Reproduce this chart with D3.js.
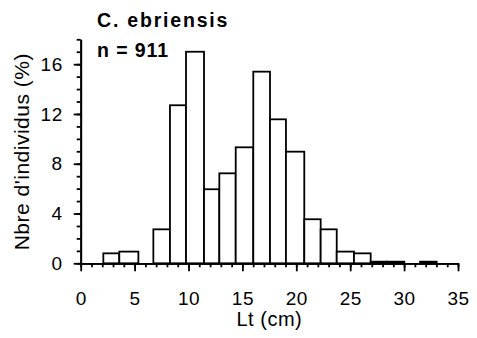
<!DOCTYPE html>
<html>
<head>
<meta charset="utf-8">
<script src="https://cdn.jsdelivr.net/npm/d3@7"></script>
<style>
  body { margin: 0; background: #fff; }
  svg text { font-family: "Liberation Sans", Arial, sans-serif; fill: #000; }
</style>
</head>
<body>
<svg id="chart" width="477" height="338"></svg>
<script>
// length classes (cm), lower/upper edges
const binLo = [2.1, 3.58, 5.35, 6.74, 8.28, 9.77, 11.44, 12.86, 14.38, 16.01, 17.56, 19.04, 20.74, 22.26, 23.75, 25.35, 26.9, 28.38, 30.02, 31.48];
const binHi = [3.58, 5.35, 6.74, 8.28, 9.77, 11.44, 12.86, 14.38, 16.01, 17.56, 19.04, 20.74, 22.26, 23.75, 25.35, 26.9, 28.38, 30.02, 31.48, 33.02];
// % of individuals per class
const pct = [0.8, 0.94, 0, 2.73, 12.7, 17.0, 5.95, 7.23, 9.32, 15.4, 11.57, 8.97, 3.54, 2.73, 0.94, 0.8, 0.13, 0.13, 0, 0.13];

const xMajor = [0, 5, 10, 15, 20, 25, 30, 35];
const yMajor = [0, 4, 8, 12, 16];

const title = "C. ebriensis";
const subtitle = "n = 911";
const xLabel = "Lt (cm)";
const yLabel = "Nbre d'individus (%)";

const margin = { top: 39.3, left: 80.7 };
const plotW = 377.3, plotH = 224;

const svg = d3.select("#chart");
const g = svg.append("g").attr("transform", `translate(${margin.left},${margin.top})`);

const x = d3.scaleLinear().domain([0, 35]).range([0, plotW]);
const y = d3.scaleLinear().domain([0, 18]).range([plotH, 0]);

const bins = binLo.map((lo, i) => ({ lo, hi: binHi[i], v: pct[i] })).filter(d => d.v > 0);

g.selectAll("rect.bar").data(bins).enter().append("rect")
  .attr("class", "bar")
  .attr("x", d => x(d.lo))
  .attr("width", d => x(d.hi) - x(d.lo))
  .attr("y", d => y(d.v))
  .attr("height", d => y(0) - y(d.v))
  .attr("fill", "#fff")
  .attr("stroke", "#000")
  .attr("stroke-width", 1.8);

// minor ticks first, then major axes with labels
const styleAxis = sel => {
  sel.selectAll("path").attr("stroke", "#000").attr("stroke-width", 1.8);
  sel.selectAll("line").attr("stroke", "#000").attr("stroke-width", 1.8);
};

g.append("g").attr("transform", `translate(0,${plotH})`)
  .call(d3.axisBottom(x).tickValues(d3.range(0, 36, 1)).tickSize(4).tickFormat("").tickSizeOuter(0))
  .call(styleAxis);
g.append("g").attr("transform", `translate(0,${plotH})`)
  .call(d3.axisBottom(x).tickValues(xMajor).tickSize(8).tickPadding(20).tickSizeOuter(0))
  .call(styleAxis)
  .call(a => a.selectAll("text").style("font-size", "19px").style("letter-spacing", "0.5px"));

g.append("g")
  .call(d3.axisLeft(y).tickValues(d3.range(0, 19, 1)).tickSize(4).tickFormat("").tickSizeOuter(0))
  .call(styleAxis);
g.append("g")
  .call(d3.axisLeft(y).tickValues(yMajor).tickSize(7).tickPadding(11).tickSizeOuter(0))
  .call(styleAxis)
  .call(a => a.selectAll("text").style("font-size", "19px").style("letter-spacing", "0.5px"));

svg.append("text")
  .attr("x", 97).attr("y", 26.5)
  .style("font-size", "19.5px").style("font-weight", "bold").style("letter-spacing", "1.8px")
  .text(title);
svg.append("text")
  .attr("x", 97).attr("y", 57)
  .style("font-size", "19.5px").style("font-weight", "bold").style("letter-spacing", "0.9px")
  .text(subtitle);

svg.append("text")
  .attr("x", margin.left + x(17.5)).attr("y", 326)
  .attr("text-anchor", "middle")
  .style("font-size", "20px").style("letter-spacing", "0.5px")
  .text(xLabel);

svg.append("text")
  .attr("transform", `translate(29,151.7) rotate(-90)`)
  .attr("text-anchor", "middle")
  .style("font-size", "21px").style("letter-spacing", "0.5px")
  .text(yLabel);
</script>
</body>
</html>
